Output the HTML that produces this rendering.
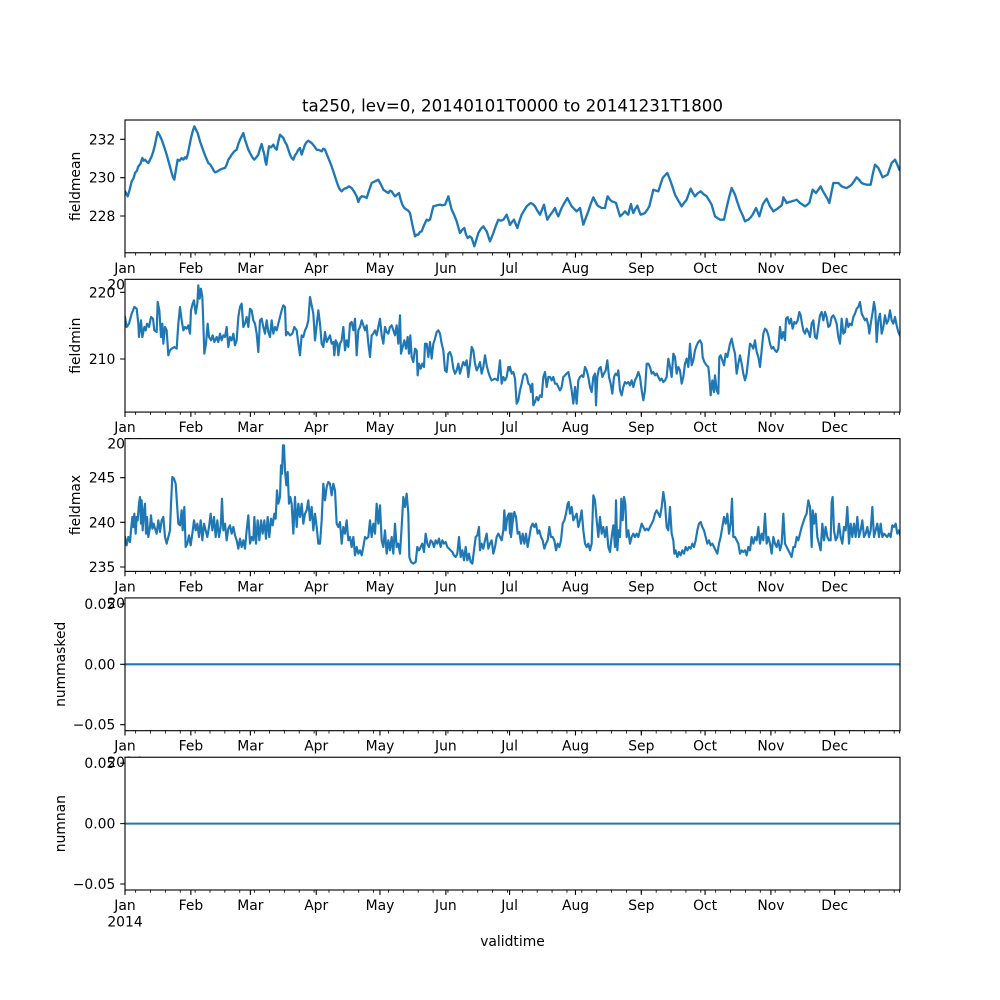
<!DOCTYPE html>
<html>
<head>
<meta charset="utf-8">
<style>
html,body{margin:0;padding:0;background:#fff;}
svg{display:block;}
text{font-family:"DejaVu Sans","Liberation Sans",sans-serif;fill:#000;}
.tk{font-size:13.89px;}
.yt{font-size:13.89px;text-anchor:end;}
.xt{font-size:13.89px;text-anchor:middle;}
.lab{font-size:13.89px;text-anchor:middle;}
.ser{fill:none;stroke:#1f77b4;stroke-linejoin:round;stroke-linecap:square;}
</style>
</head>
<body>
<svg width="1000" height="1000" viewBox="0 0 1000 1000" xmlns="http://www.w3.org/2000/svg">
<defs>
<clipPath id="c1"><rect x="125" y="120" width="775" height="132.76"/></clipPath>
<clipPath id="c2"><rect x="125" y="279.31" width="775" height="132.76"/></clipPath>
<clipPath id="c3"><rect x="125" y="438.62" width="775" height="132.76"/></clipPath>
<g id="xt">
<path d="M125,0v4.86M190.87,0v4.86M250.36,0v4.86M316.23,0v4.86M379.97,0v4.86M445.87,0v4.86M509.58,0v4.86M575.45,0v4.86M641.31,0v4.86M705.06,0v4.86M770.92,0v4.86M834.67,0v4.86" stroke="#000" stroke-width="1.11" fill="none"/>
<path d="M135.62,0v2.78M150.5,0v2.78M165.37,0v2.78M180.24,0v2.78M195.12,0v2.78M209.99,0v2.78M224.86,0v2.78M239.74,0v2.78M254.61,0v2.78M269.48,0v2.78M284.36,0v2.78M299.23,0v2.78M314.1,0v2.78M328.98,0v2.78M343.85,0v2.78M358.72,0v2.78M373.59,0v2.78M388.47,0v2.78M403.34,0v2.78M418.21,0v2.78M433.09,0v2.78M447.96,0v2.78M462.83,0v2.78M477.71,0v2.78M492.58,0v2.78M507.45,0v2.78M522.33,0v2.78M537.2,0v2.78M552.07,0v2.78M566.95,0v2.78M581.82,0v2.78M596.69,0v2.78M611.57,0v2.78M626.44,0v2.78M641.31,0v2.78M656.19,0v2.78M671.06,0v2.78M685.93,0v2.78M700.81,0v2.78M715.68,0v2.78M730.55,0v2.78M745.43,0v2.78M760.3,0v2.78M775.17,0v2.78M790.05,0v2.78M804.92,0v2.78M819.79,0v2.78M834.67,0v2.78M849.54,0v2.78M864.41,0v2.78M879.29,0v2.78M894.16,0v2.78M899.5,0v2.78" stroke="#000" stroke-width="0.83" fill="none"/>
</g>
</defs>
<rect x="0" y="0" width="1000" height="1000" fill="#fff"/>

<text x="512.5" y="111.5" style="font-size:16.67px;text-anchor:middle;">ta250, lev=0, 20140101T0000 to 20141231T1800</text>

<!-- Panel 1 -->
<g>
<rect x="125" y="120" width="775" height="132.76" fill="#fff"/>
<g clip-path="url(#c1)">
<path class="ser" transform="translate(125,118) scale(0.33333)" stroke-width="7" d="M0,220 L8,235 14,215 20,190 26,180 30,165 36,158 40,145 46,138 52,120 56,128 60,125 66,132 70,135 75,125 80,115 85,100 90,80 94,60 98,42 104,52 110,65 118,88 125,110 132,135 140,165 144,178 148,185 152,160 158,125 164,128 170,120 175,125 180,118 184,122 188,110 193,85 198,60 203,40 208,25 213,35 218,45 225,70 232,90 240,112 250,135 256,140 262,150 266,158 270,163 278,160 285,155 292,152 300,150 305,140 310,125 315,118 320,110 328,100 335,95 340,78 345,65 350,55 355,45 360,65 365,80 370,95 375,105 382,118 388,125 394,118 400,110 405,92 410,78 414,95 418,110 421,130 424,140 428,110 432,85 438,88 445,80 450,90 455,95 460,70 465,50 470,55 475,60 480,72 485,80 490,95 495,110 500,120 505,125 510,112 515,105 520,95 525,90 528,102 530,110 535,95 540,80 545,72 550,68 555,72 560,75 568,85 575,95 582,96 590,100 595,92 600,95 605,108 610,120 618,140 625,160 632,182 640,205 645,215 650,220 658,212 665,210 672,205 680,210 688,222 695,235 698,245 700,252 705,240 710,235 718,236 725,240 732,218 740,195 750,190 760,185 768,200 775,215 782,220 790,225 795,218 800,220 805,228 810,235 816,230 822,225 827,245 832,260 838,270 845,275 850,278 855,285 862,320 870,355 875,350 880,350 885,342 890,340 897,322 905,305 910,308 915,305 920,285 925,265 935,262 945,260 952,262 960,260 965,248 970,235 975,255 980,275 988,292 995,310 1000,328 1005,345 1012,335 1018,330 1023,350 1028,360 1034,355 1040,360 1044,372 1048,385 1054,365 1060,345 1068,332 1075,325 1080,333 1085,340 1090,355 1095,370 1100,358 1105,345 1112,325 1120,305 1128,308 1135,305 1140,298 1145,290 1150,305 1155,320"/>
<path class="ser" transform="translate(510,118) scale(0.33333)" stroke-width="7" d="M0,320 L6,312 12,305 17,318 22,330 28,310 35,290 42,278 50,265 56,260 62,255 68,258 75,265 82,278 90,290 96,275 102,260 107,285 112,305 118,295 125,285 130,278 135,270 140,285 145,295 150,282 155,270 163,255 172,240 178,252 185,265 192,272 200,280 205,275 210,270 215,295 220,320 228,298 235,280 242,258 250,238 256,250 262,262 268,266 275,270 280,270 285,270 289,250 293,235 299,244 305,250 312,252 318,255 324,275 330,295 338,288 345,280 350,286 355,290 359,272 363,258 366,272 370,285 376,272 382,263 387,278 392,290 398,288 405,285 412,275 418,265 424,240 430,215 438,218 445,220 452,198 458,180 465,172 472,165 476,175 480,185 488,208 495,230 505,248 515,265 522,255 530,245 536,228 542,212 548,224 555,235 563,226 572,220 580,228 590,235 598,248 605,260 610,278 615,295 622,300 630,305 636,305 642,305 647,282 652,260 658,235 665,210 670,220 675,230 682,252 690,275 698,292 705,310 710,307 715,305 722,298 728,290 733,280 738,270 743,282 748,295 753,278 758,260 764,250 770,242 775,254 780,265 785,272 790,280 798,275 805,270 810,266 815,262 818,250 820,238 825,246 830,255 838,252 845,250 852,248 860,245 865,250 870,255 878,260 885,265 892,260 898,255 903,235 908,215 913,220 918,225 925,215 932,205 938,218 945,230 952,242 958,255 964,225 970,195 978,195 985,195 990,200 995,205 1002,208 1010,210 1018,205 1025,200 1032,190 1040,178 1048,186 1055,195 1062,198 1070,200 1076,200 1082,200 1088,170 1095,140 1100,145 1105,150 1112,165 1118,178 1125,174 1133,170 1139,152 1145,135 1150,130 1155,125 1162,140 1168,155 1172,158"/>
</g>
<rect x="125" y="120" width="775" height="132.76" fill="none" stroke="#000" stroke-width="1.11"/>
<path d="M125,139.3h-4.86M125,177.7h-4.86M125,216h-4.86" stroke="#000" stroke-width="1.11"/>
<text class="yt" x="115.3" y="144.3">232</text>
<text class="yt" x="115.3" y="182.7">230</text>
<text class="yt" x="115.3" y="221">228</text>
<text class="lab" transform="translate(80,186.38) rotate(-90)">fieldmean</text>
<use href="#xt" x="0" y="252.76"/>
<text class="xt" x="125" y="272.8">Jan</text>
<text class="xt" x="190.9" y="272.8">Feb</text>
<text class="xt" x="250.4" y="272.8">Mar</text>
<text class="xt" x="316.2" y="272.8">Apr</text>
<text class="xt" x="380" y="272.8">May</text>
<text class="xt" x="445.9" y="272.8">Jun</text>
<text class="xt" x="509.6" y="272.8">Jul</text>
<text class="xt" x="575.5" y="272.8">Aug</text>
<text class="xt" x="641.3" y="272.8">Sep</text>
<text class="xt" x="705.1" y="272.8">Oct</text>
<text class="xt" x="770.9" y="272.8">Nov</text>
<text class="xt" x="834.7" y="272.8">Dec</text>
<text class="xt" x="125" y="289.3">2014</text>
</g>

<!-- Panel 2 -->
<g>
<rect x="125" y="279.31" width="775" height="132.76" fill="#fff"/>
<g clip-path="url(#c2)">
<path class="ser" transform="translate(125,277) scale(0.33333)" stroke-width="6.5" d="M0,120 L5,150 12,140 20,110 28,90 35,95 40,140 42,180 48,130 52,180 58,150 62,160 66,140 72,150 78,120 84,125 88,160 95,165 98,75 103,100 108,180 112,140 115,200 120,150 125,160 130,235 135,220 140,215 148,210 155,215 160,140 165,90 170,130 175,160 180,150 185,155 190,145 195,170 198,100 203,80 207,70 212,110 217,80 220,25 224,65 228,35 232,60 235,140 238,230 243,200 248,140 252,180 258,190 263,175 268,195 275,180 280,195 285,170 290,190 295,175 300,180 305,150 310,210 315,180 320,190 325,170 330,205 335,190 340,120 345,90 350,80 355,150 360,140 365,120 370,150 375,95 380,100 385,130 390,140 395,170 400,225 405,130 410,125 415,150 420,170 425,130 430,165 435,180 440,130 445,170 450,150 455,160 460,140 465,120 470,100 475,85 480,90 483,175 488,165 495,175 502,170 508,150 515,160 520,200 525,235 530,175 535,180 540,160 545,150 550,130 555,60 560,85 565,110 570,190 575,145 580,100 585,140 590,200 595,210 600,165 605,195 610,185 615,175 620,200 625,195 628,235 632,190 637,200 640,235 645,200 650,190 655,150 660,220 665,190 670,210 675,140 680,135 685,160 690,125 695,235 700,160 705,150 710,130 715,145 720,160 725,145 730,200 735,240 740,175 745,170 750,160 755,175 760,150 765,125 770,175 775,200 780,150 785,165 790,170 795,150 800,145 805,160 810,175 815,145 820,200 825,115 828,230 833,210 838,190 843,215 848,180 852,230 856,175 860,240 865,255 870,215 875,220 878,295 882,260 887,275 892,260 897,270 900,200 905,200 910,240 915,195 920,245 925,200 930,185 935,165 940,160 945,170 950,200 955,220 960,280 965,285 970,230 975,225 980,240 985,275 990,290 995,280 1000,260 1005,290 1010,270 1015,255 1020,265 1025,250 1030,300 1035,260 1040,210 1045,220 1050,260 1055,280 1060,270 1065,255 1070,290 1075,270 1080,235 1085,265 1090,285 1095,300 1100,310 1110,305 1118,310 1125,250 1130,320 1135,300 1140,310 1145,300 1150,270 1155,280"/>
<path class="ser" transform="translate(510,277) scale(0.33333)" stroke-width="6.5" d="M0,270 L5,290 10,285 15,305 20,380 25,370 30,340 35,320 40,295 45,290 50,295 55,320 60,325 63,345 67,320 70,385 75,375 80,360 85,370 90,355 95,360 100,300 105,285 110,330 115,300 120,300 125,310 130,300 135,320 140,320 145,330 150,340 155,330 160,300 165,295 170,290 175,285 180,310 185,340 190,380 195,330 200,380 205,310 210,300 215,295 220,300 225,270 230,280 235,300 240,330 245,345 250,300 255,290 258,385 262,300 267,275 272,270 277,300 282,290 287,280 292,250 297,300 302,320 307,350 312,300 317,290 322,295 325,280 330,340 335,355 340,330 345,315 350,320 355,315 360,325 365,310 370,330 375,310 380,300 385,285 390,300 395,340 400,370 405,340 410,260 415,260 420,270 425,290 430,285 435,295 440,290 445,300 450,310 455,305 460,315 465,310 470,300 475,245 480,270 485,300 490,230 495,240 500,290 505,270 510,280 515,320 520,300 525,260 530,245 535,270 540,200 545,265 550,250 555,220 560,205 565,195 570,190 575,200 578,240 583,255 590,265 595,270 598,300 602,355 607,310 612,345 615,295 620,340 625,350 628,240 632,235 637,250 642,265 647,230 652,240 655,225 660,200 665,185 670,210 675,230 680,290 685,260 690,235 695,260 700,290 705,310 710,290 715,245 720,200 725,205 730,215 735,190 740,225 745,240 750,270 755,220 760,170 765,155 770,160 775,175 780,200 785,215 790,210 795,220 800,225 805,215 810,150 815,185 820,165 825,190 828,125 833,120 838,140 843,125 848,155 853,135 858,140 863,130 868,105 872,115 876,140 880,160 885,170 890,155 895,165 900,180 905,140 910,130 915,180 920,185 925,150 930,115 935,105 940,130 945,105 950,120 955,150 960,145 965,120 970,115 975,125 980,140 985,180 990,200 995,125 1000,170 1005,165 1010,125 1015,150 1020,140 1025,145 1030,120 1035,110 1040,95 1045,90 1050,75 1055,110 1060,120 1065,130 1070,125 1075,145 1078,170 1083,135 1088,105 1092,75 1096,100 1100,195 1105,130 1110,110 1115,170 1120,150 1125,115 1130,140 1135,130 1140,100 1145,130 1150,140 1155,120 1160,145 1165,165 1172,180"/>
</g>
<rect x="125" y="279.31" width="775" height="132.76" fill="none" stroke="#000" stroke-width="1.11"/>
<path d="M125,292.3h-4.86M125,359h-4.86" stroke="#000" stroke-width="1.11"/>
<text class="yt" x="115.3" y="297.3">220</text>
<text class="yt" x="115.3" y="364">210</text>
<text class="lab" transform="translate(80,345.69) rotate(-90)">fieldmin</text>
<use href="#xt" x="0" y="412.07"/>
<text class="xt" x="125" y="432.1">Jan</text>
<text class="xt" x="190.9" y="432.1">Feb</text>
<text class="xt" x="250.4" y="432.1">Mar</text>
<text class="xt" x="316.2" y="432.1">Apr</text>
<text class="xt" x="380" y="432.1">May</text>
<text class="xt" x="445.9" y="432.1">Jun</text>
<text class="xt" x="509.6" y="432.1">Jul</text>
<text class="xt" x="575.5" y="432.1">Aug</text>
<text class="xt" x="641.3" y="432.1">Sep</text>
<text class="xt" x="705.1" y="432.1">Oct</text>
<text class="xt" x="770.9" y="432.1">Nov</text>
<text class="xt" x="834.7" y="432.1">Dec</text>
<text class="xt" x="125" y="448.6">2014</text>
</g>

<!-- Panel 3 -->
<g>
<rect x="125" y="438.62" width="775" height="132.76" fill="#fff"/>
<g clip-path="url(#c3)">
<path class="ser" transform="translate(125,437) scale(0.33333)" stroke-width="6.5" d="M0,300 L5,325 10,300 15,315 18,280 22,240 25,270 28,230 32,290 35,240 38,250 42,200 45,180 48,260 50,190 53,280 57,220 60,200 63,290 66,240 70,300 75,270 78,235 82,275 86,260 90,275 95,290 100,250 105,285 110,250 115,240 120,300 125,320 130,300 135,280 138,200 142,120 147,125 152,140 156,200 160,260 165,265 170,220 173,280 178,210 182,330 187,320 192,295 197,325 202,290 207,250 212,280 217,260 222,300 227,250 232,310 237,260 242,280 247,300 252,270 257,230 262,280 267,240 272,300 277,250 282,300 287,270 291,185 295,280 300,260 305,310 310,275 315,265 320,290 325,270 330,295 335,310 340,335 345,305 350,330 355,310 360,335 365,280 370,235 375,320 380,300 385,310 388,240 393,320 398,250 403,310 408,250 413,290 418,250 423,305 428,240 433,300 438,245 443,265 448,230 452,245 456,160 460,200 465,180 468,85 471,110 474,25 477,25 480,100 484,145 488,105 492,200 496,180 500,200 505,290 510,180 515,270 520,200 525,240 530,200 535,260 540,230 545,220 550,190 555,250 560,210 565,280 570,230 575,270 580,320 585,320 590,250 595,140 600,190 605,150 610,135 615,140 620,175 625,140 630,160 635,260 640,270 645,255 650,320 655,270 660,290 665,250 670,310 675,300 680,330 685,300 690,355 695,330 700,350 705,340 710,355 715,330 720,300 725,305 730,300 735,250 740,300 745,260 750,290 755,200 760,260 765,205 770,310 775,330 780,280 785,350 790,310 795,340 800,300 805,350 810,260 815,330 820,320 825,350 830,270 835,180 840,210 845,170 850,230 853,360 858,375 865,380 872,375 877,330 882,340 887,330 892,320 897,345 902,290 907,320 912,330 917,310 922,315 927,330 932,310 937,320 942,305 947,330 952,310 957,320 962,315 967,330 972,335 977,340 982,345 987,355 992,360 997,350 1002,300 1007,360 1012,340 1017,370 1022,330 1027,370 1032,350 1037,375 1042,380 1047,340 1052,300 1057,295 1062,270 1065,340 1070,320 1075,335 1080,310 1085,290 1090,335 1095,320 1100,310 1105,350 1110,330 1115,300 1120,290 1125,300 1130,310 1135,280 1138,220 1142,280 1147,240 1152,230 1155,290 1160,230"/>
<path class="ser" transform="translate(510,437) scale(0.33333)" stroke-width="6.5" d="M0,230 L3,300 8,255 13,225 18,240 23,290 28,285 33,320 38,290 43,320 48,290 53,330 58,300 63,270 68,260 73,270 78,260 83,290 88,280 93,300 98,310 103,335 108,320 113,310 118,270 123,300 128,300 133,310 138,340 143,320 148,330 153,310 158,260 163,250 168,230 173,200 176,195 180,230 185,210 190,250 195,240 200,230 205,270 210,250 215,220 220,280 225,320 230,330 235,320 240,340 245,320 250,175 255,190 260,250 265,300 270,240 275,290 280,270 285,300 290,270 295,330 300,345 305,300 310,265 315,330 318,190 322,340 326,280 330,300 334,185 338,250 342,180 346,200 350,300 355,280 360,320 365,300 370,290 375,300 380,290 385,300 390,280 395,260 400,270 405,280 410,275 415,280 420,270 425,260 430,250 435,230 440,220 445,230 450,240 455,210 460,165 465,200 470,270 475,280 480,210 485,290 490,310 493,350 497,340 502,360 507,345 512,355 517,340 522,350 527,330 532,340 537,330 542,335 547,320 552,330 557,310 562,280 567,260 572,255 577,270 582,280 587,300 592,320 597,310 602,325 607,320 612,330 617,340 622,350 627,320 632,300 637,270 642,240 647,260 652,230 657,290 662,260 666,185 670,300 675,300 680,310 685,320 690,350 695,340 700,345 705,340 710,355 715,330 720,340 725,300 730,320 735,300 740,310 745,270 750,320 755,290 760,310 765,230 770,320 775,300 780,320 785,350 790,300 795,320 800,330 805,310 810,340 815,320 820,230 825,320 830,330 835,340 840,350 845,360 850,330 855,330 860,300 865,310 870,290 875,270 880,255 885,240 890,230 895,190 900,210 905,330 908,220 912,260 917,230 922,300 927,320 932,340 937,260 942,310 947,270 952,300 957,310 962,310 965,195 968,180 972,280 977,310 982,300 987,260 992,300 997,320 1002,270 1007,280 1012,210 1017,320 1022,260 1027,300 1032,260 1037,300 1042,240 1047,300 1052,280 1057,250 1062,300 1067,290 1072,270 1077,300 1082,280 1087,210 1092,300 1097,280 1102,260 1107,300 1112,260 1117,300 1122,290 1127,295 1132,300 1137,290 1142,300 1147,265 1152,270 1157,260 1162,290 1167,280 1172,300"/>
</g>
<rect x="125" y="438.62" width="775" height="132.76" fill="none" stroke="#000" stroke-width="1.11"/>
<path d="M125,477.7h-4.86M125,522.3h-4.86M125,567h-4.86" stroke="#000" stroke-width="1.11"/>
<text class="yt" x="115.3" y="482.7">245</text>
<text class="yt" x="115.3" y="527.3">240</text>
<text class="yt" x="115.3" y="572">235</text>
<text class="lab" transform="translate(80,505) rotate(-90)">fieldmax</text>
<use href="#xt" x="0" y="571.38"/>
<text class="xt" x="125" y="591.4">Jan</text>
<text class="xt" x="190.9" y="591.4">Feb</text>
<text class="xt" x="250.4" y="591.4">Mar</text>
<text class="xt" x="316.2" y="591.4">Apr</text>
<text class="xt" x="380" y="591.4">May</text>
<text class="xt" x="445.9" y="591.4">Jun</text>
<text class="xt" x="509.6" y="591.4">Jul</text>
<text class="xt" x="575.5" y="591.4">Aug</text>
<text class="xt" x="641.3" y="591.4">Sep</text>
<text class="xt" x="705.1" y="591.4">Oct</text>
<text class="xt" x="770.9" y="591.4">Nov</text>
<text class="xt" x="834.7" y="591.4">Dec</text>
<text class="xt" x="125" y="607.9">2014</text>
</g>

<!-- Panel 4 -->
<g>
<rect x="125" y="597.93" width="775" height="132.76" fill="#fff"/>
<path d="M125,664.31H900" stroke="#1f77b4" stroke-width="2.08" fill="none"/>
<rect x="125" y="597.93" width="775" height="132.76" fill="none" stroke="#000" stroke-width="1.11"/>
<path d="M125,603.9h-4.86M125,664.31h-4.86M125,724.7h-4.86" stroke="#000" stroke-width="1.11"/>
<text class="yt" x="115.3" y="608.9">0.05</text>
<text class="yt" x="115.3" y="669.3">0.00</text>
<text class="yt" x="115.3" y="729.7">−0.05</text>
<text class="lab" transform="translate(65,664.31) rotate(-90)">nummasked</text>
<use href="#xt" x="0" y="730.69"/>
<text class="xt" x="125" y="750.7">Jan</text>
<text class="xt" x="190.9" y="750.7">Feb</text>
<text class="xt" x="250.4" y="750.7">Mar</text>
<text class="xt" x="316.2" y="750.7">Apr</text>
<text class="xt" x="380" y="750.7">May</text>
<text class="xt" x="445.9" y="750.7">Jun</text>
<text class="xt" x="509.6" y="750.7">Jul</text>
<text class="xt" x="575.5" y="750.7">Aug</text>
<text class="xt" x="641.3" y="750.7">Sep</text>
<text class="xt" x="705.1" y="750.7">Oct</text>
<text class="xt" x="770.9" y="750.7">Nov</text>
<text class="xt" x="834.7" y="750.7">Dec</text>
<text class="xt" x="125" y="767.2">2014</text>
</g>

<!-- Panel 5 -->
<g>
<rect x="125" y="757.24" width="775" height="132.76" fill="#fff"/>
<path d="M125,823.62H900" stroke="#1f77b4" stroke-width="2.08" fill="none"/>
<rect x="125" y="757.24" width="775" height="132.76" fill="none" stroke="#000" stroke-width="1.11"/>
<path d="M125,763.2h-4.86M125,823.62h-4.86M125,884h-4.86" stroke="#000" stroke-width="1.11"/>
<text class="yt" x="115.3" y="768.2">0.05</text>
<text class="yt" x="115.3" y="828.6">0.00</text>
<text class="yt" x="115.3" y="889">−0.05</text>
<text class="lab" transform="translate(65,823.62) rotate(-90)">numnan</text>
<use href="#xt" x="0" y="890"/>
<text class="xt" x="125" y="910">Jan</text>
<text class="xt" x="190.9" y="910">Feb</text>
<text class="xt" x="250.4" y="910">Mar</text>
<text class="xt" x="316.2" y="910">Apr</text>
<text class="xt" x="380" y="910">May</text>
<text class="xt" x="445.9" y="910">Jun</text>
<text class="xt" x="509.6" y="910">Jul</text>
<text class="xt" x="575.5" y="910">Aug</text>
<text class="xt" x="641.3" y="910">Sep</text>
<text class="xt" x="705.1" y="910">Oct</text>
<text class="xt" x="770.9" y="910">Nov</text>
<text class="xt" x="834.7" y="910">Dec</text>
<text class="xt" x="125" y="926.5">2014</text>
</g>

<text class="lab" x="512.5" y="946">validtime</text>
</svg>
</body>
</html>
